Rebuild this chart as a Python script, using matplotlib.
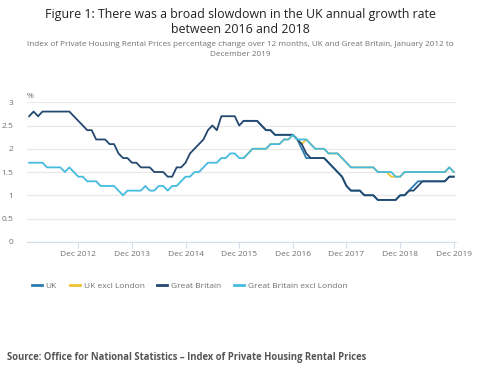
import numpy as np
import matplotlib
matplotlib.use("Agg")
import matplotlib.pyplot as plt

plt.rcParams['font.family'] = ['Open Sans', 'DejaVu Sans']

# monthly, Jan 2012 - Dec 2019
gb = [2.7, 2.8, 2.7, 2.8, 2.8, 2.8, 2.8, 2.8, 2.8, 2.8, 2.7, 2.6,
      2.5, 2.4, 2.4, 2.2, 2.2, 2.2, 2.1, 2.1, 1.9, 1.8, 1.8, 1.7,
      1.7, 1.6, 1.6, 1.6, 1.5, 1.5, 1.5, 1.4, 1.4, 1.6, 1.6, 1.7,
      1.9, 2.0, 2.1, 2.2, 2.4, 2.5, 2.4, 2.7, 2.7, 2.7, 2.7, 2.5,
      2.6, 2.6, 2.6, 2.6, 2.5, 2.4, 2.4, 2.3, 2.3, 2.3, 2.3, 2.3,
      2.2, 2.1, 1.9, 1.8, 1.8, 1.8, 1.8, 1.7, 1.6, 1.5, 1.4, 1.2,
      1.1, 1.1, 1.1, 1.0, 1.0, 1.0, 0.9, 0.9, 0.9, 0.9, 0.9, 1.0,
      1.0, 1.1, 1.1, 1.2, 1.3, 1.3, 1.3, 1.3, 1.3, 1.3, 1.4, 1.4]
gb_excl = [1.7, 1.7, 1.7, 1.7, 1.6, 1.6, 1.6, 1.6, 1.5, 1.6, 1.5, 1.4,
           1.4, 1.3, 1.3, 1.3, 1.2, 1.2, 1.2, 1.2, 1.1, 1.0, 1.1, 1.1,
           1.1, 1.1, 1.2, 1.1, 1.1, 1.2, 1.2, 1.1, 1.2, 1.2, 1.3, 1.4,
           1.4, 1.5, 1.5, 1.6, 1.7, 1.7, 1.7, 1.8, 1.8, 1.9, 1.9, 1.8,
           1.8, 1.9, 2.0, 2.0, 2.0, 2.0, 2.1, 2.1, 2.1, 2.2, 2.2, 2.3,
           2.2, 2.2, 2.2, 2.1, 2.0, 2.0, 2.0, 1.9, 1.9, 1.9, 1.8, 1.7,
           1.6, 1.6, 1.6, 1.6, 1.6, 1.6, 1.5, 1.5, 1.5, 1.5, 1.4, 1.4,
           1.5, 1.5, 1.5, 1.5, 1.5, 1.5, 1.5, 1.5, 1.5, 1.5, 1.6, 1.5]
# UK series only from Jan 2016
uk = [2.6, 2.6, 2.6, 2.6, 2.5, 2.4, 2.4, 2.3, 2.3, 2.3, 2.3, 2.3,
      2.2, 2.0, 1.8, 1.8, 1.8, 1.8, 1.8, 1.7, 1.6, 1.5, 1.4, 1.2,
      1.1, 1.1, 1.1, 1.0, 1.0, 1.0, 0.9, 0.9, 0.9, 0.9, 0.9, 1.0,
      1.0, 1.1, 1.2, 1.3, 1.3, 1.3, 1.3, 1.3, 1.3, 1.3, 1.4, 1.4]
uk_excl = [1.8, 1.9, 2.0, 2.0, 2.0, 2.0, 2.1, 2.1, 2.1, 2.2, 2.2, 2.3,
           2.2, 2.1, 2.2, 2.1, 2.0, 2.0, 2.0, 1.9, 1.9, 1.9, 1.8, 1.7,
           1.6, 1.6, 1.6, 1.6, 1.6, 1.6, 1.5, 1.5, 1.5, 1.4, 1.4, 1.4,
           1.5, 1.5, 1.5, 1.5, 1.5, 1.5, 1.5, 1.5, 1.5, 1.5, 1.6, 1.5]
tick_labels = ['Dec 2012', 'Dec 2013', 'Dec 2014', 'Dec 2015',
               'Dec 2016', 'Dec 2017', 'Dec 2018', 'Dec 2019']

x_all = np.arange(len(gb))
x_uk = np.arange(48, 48 + len(uk))

fig = plt.figure(figsize=(4.8, 3.76), dpi=100)
ax = fig.add_axes([0.056, 0.357, 0.894, 0.371])

ax.plot(x_uk, uk, color='#2b7cb0', lw=1.3, label='UK')
ax.plot(x_uk, uk_excl, color='#f0c330', lw=1.3, label='UK excl London')
ax.plot(x_all, gb, color='#24486e', lw=1.3, label='Great Britain')
ax.plot(x_all, gb_excl, color='#45bbe0', lw=1.3, label='Great Britain excl London')

ax.set_xlim(-0.5, 95.5)
ax.set_ylim(0, 3)
ax.set_yticks(np.arange(0, 3.01, 0.5))
ax.set_yticklabels(['0', '0.5', '1', '1.5', '2', '2.5', '3'])
ax.set_xticks(np.arange(11, 96, 12))
ax.set_xticklabels(tick_labels)
ax.grid(axis='y', color='#e8e8e8', lw=0.9)
ax.set_axisbelow(True)
for s in ['top', 'right', 'left']:
    ax.spines[s].set_visible(False)
ax.spines['bottom'].set_color('#d3dfeb')
ax.tick_params(axis='y', length=0, labelsize=6, colors='#707070', pad=10)
ax.tick_params(axis='x', length=4, color='#d3dfeb', labelsize=6, labelcolor='#707070', pad=3)
ax.text(-0.5, 3.05, '%', fontsize=6, color='#707070', va='bottom', ha='left')

fig.text(0.5, 0.978, 'Figure 1: There was a broad slowdown in the UK annual growth rate\nbetween 2016 and 2018',
         ha='center', va='top', fontsize=8.9, color='#222222', linespacing=1.15)
fig.text(0.5, 0.89, 'Index of Private Housing Rental Prices percentage change over 12 months, UK and Great Britain, January 2012 to\nDecember 2019',
         ha='center', va='top', fontsize=5.9, color='#707070', linespacing=1.5)

leg = fig.legend(loc='upper left', bbox_to_anchor=(0.05, 0.27), ncol=4, frameon=False,
                 fontsize=6, labelcolor='#707070', handlelength=1.2, handletextpad=0.5,
                 columnspacing=1.5)
for h in leg.get_lines():
    h.set_linewidth(2)

fig.text(0.015, 0.05, 'Source: Office for National Statistics – Index of Private Housing Rental Prices',
         ha='left', va='center', fontsize=6.85, fontweight='bold', color='#555555')

fig.savefig('out.png', dpi=100)
